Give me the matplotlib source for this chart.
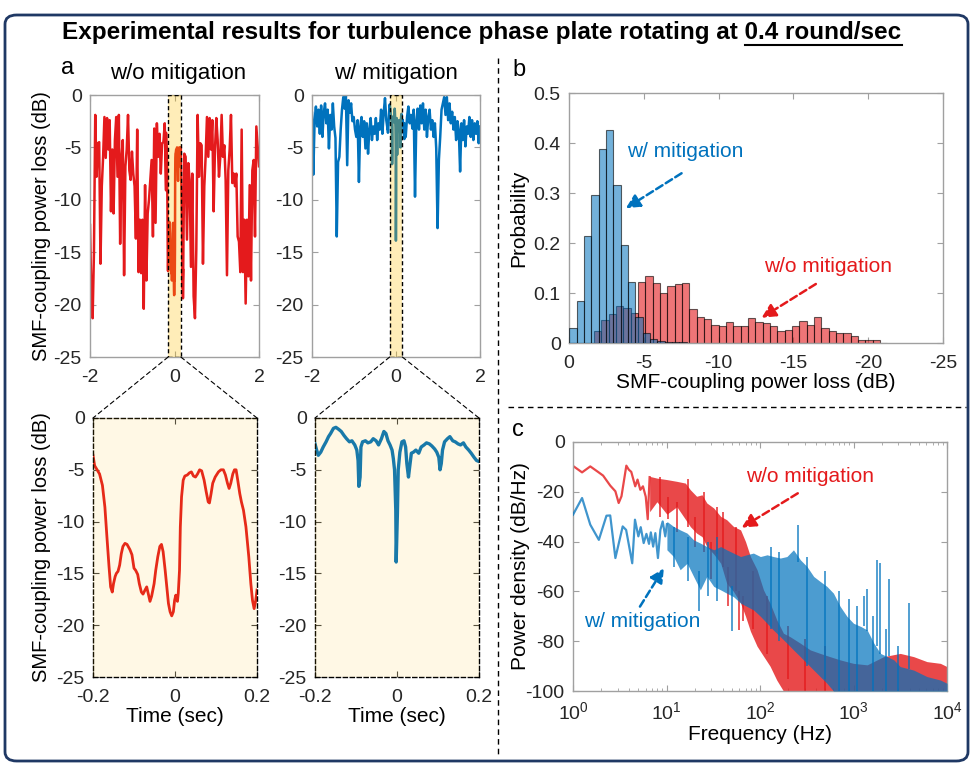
import numpy as np
import matplotlib.pyplot as plt
from matplotlib.colors import to_rgba
from matplotlib.lines import Line2D
from matplotlib.patches import Rectangle, FancyBboxPatch, ConnectionPatch

plt.rcParams['font.family'] = ['Liberation Sans', 'DejaVu Sans']
plt.rcParams['axes.unicode_minus'] = False

RED = '#E41A1C'
BLUE = '#0072BD'
HILITE = '#FFC000'

# ---- panel a: coupling loss vs time (dB) ----
# top traces, outside the zoom window (evenly sampled)
tl_left = [-12.4, -18.9, -21.3, -15.1, -1.9, -7.8, -4.6, -4.5, -16.1, -8.7,
           -5.9, -2.1, -6.0, -2.2, -5.2, -2.4, -11.1, -5.2, -11.3, -4.3,
           -2.1, -7.8, -1.9, -14.2, -6.0, -4.3, -17.2, -6.8, -5.2, -1.9,
           -7.2, -8.1, -5.4, -7.5, -8.7, -13.7, -3.3, -16.9, -11.9, -17.0,
           -11.9, -20.4, -8.6, -17.7, -11.3, -10.0, -8.1, -6.2, -13.5, -3.2,
           -12.2, -2.7, -5.9, -3.7, -7.5, -4.6, -4.5, -2.7, -9.1]
tl_right = [-19.4, -5.6, -5.9, -13.8, -6.5, -8.1, -16.4, -7.5, -19.2, -21.3,
            -14.8, -1.9, -7.8, -4.6, -4.8, -16.1, -8.7, -5.9, -2.1, -5.9,
            -2.2, -5.2, -2.4, -11.1, -5.2, -2.2, -4.3, -7.8, -5.9, -1.9,
            -5.9, -4.8, -8.1, -17.2, -7.2, -5.2, -1.9, -8.4, -7.5, -8.7,
            -7.5, -13.5, -14.0, -16.9, -3.3, -16.9, -11.9, -19.9, -11.9, -17.3,
            -8.6, -17.7, -7.2, -6.2, -13.5, -3.0, -4.9, -6.8]
tr_left = [-1.7, -7.6, -2.4, -1.1, -3.0, -1.4, -3.7, -1.0, -4.0, -1.7,
           -0.8, -2.7, -1.4, -5.1, -1.9, -3.3, -0.8, -3.0, -4.1, -13.5,
           -6.4, -5.9, -3.3, -1.4, -0.2, -1.3, -0.1, -6.7, -0.5, -1.7,
           -0.8, -2.5, -2.1, -3.3, -4.0, -2.4, -8.3, -3.0, -2.1, -4.0,
           -2.5, -5.1, -2.7, -5.6, -3.3, -2.2, -4.3, -3.0, -3.7, -2.2,
           -4.3, -2.7, -3.3, -1.4, -3.7, -1.7, -0.3, -2.4, -3.3]
tr_right = [-2.7, -4.0, -2.1, -1.1, -2.7, -1.9, -3.2, -1.4, -9.7, -2.4,
            -1.3, -3.3, -1.0, -2.7, -0.8, -3.3, -1.4, -4.0, -2.1, -1.4,
            -3.3, -2.4, -4.0, -2.7, -5.1, -12.7, -6.2, -4.0, -1.4, -0.8,
            -0.2, -1.9, -0.2, -2.4, -0.8, -2.7, -1.6, -3.3, -2.1, -4.3,
            -2.5, -3.3, -7.3, -2.7, -4.3, -2.4, -4.9, -3.0, -3.7, -2.1,
            -4.0, -2.4, -4.3, -2.7, -3.7, -2.5, -4.6, -3.0]

# zoomed window -0.2 .. 0.2 s
wo_t = [-0.200, -0.196, -0.190, -0.184, -0.177, -0.171, -0.166, -0.161, -0.157, -0.153,
        -0.150, -0.146, -0.143, -0.139, -0.135, -0.131, -0.127, -0.122, -0.117, -0.110,
        -0.105, -0.100, -0.096, -0.091, -0.087, -0.082, -0.078, -0.073, -0.069, -0.065,
        -0.061, -0.057, -0.051, -0.047, -0.042, -0.037, -0.033, -0.029, -0.024, -0.020,
        -0.016, -0.012, -0.008, -0.004, -0.001, 0.002, 0.006, 0.008, 0.011, 0.013,
        0.016, 0.020, 0.024, 0.030, 0.035, 0.040, 0.045, 0.050, 0.055, 0.060,
        0.065, 0.071, 0.076, 0.081, 0.084, 0.088, 0.092, 0.098, 0.106, 0.112,
        0.118, 0.123, 0.128, 0.132, 0.136, 0.141, 0.145, 0.149, 0.153, 0.158,
        0.162, 0.167, 0.173, 0.180, 0.185, 0.189, 0.193, 0.197, 0.200]
wo_v = [-3.6, -4.6, -5.0, -5.4, -6.5, -8.6, -11.5, -14.3, -16.3, -16.8,
        -16.0, -15.3, -15.0, -14.8, -14.2, -13.1, -12.4, -12.1, -12.2, -12.7,
        -13.2, -14.5, -14.7, -15.1, -16.0, -16.8, -17.0, -16.6, -16.3, -17.0,
        -17.7, -17.2, -16.0, -14.7, -13.4, -12.4, -12.2, -12.9, -14.7, -16.3,
        -17.9, -18.7, -19.1, -18.7, -17.6, -17.1, -17.7, -16.9, -14.7, -10.5,
        -7.6, -6.0, -5.6, -5.5, -5.3, -5.2, -5.6, -5.7, -5.4, -5.0,
        -5.1, -6.0, -7.1, -8.1, -8.2, -7.3, -6.3, -5.7, -5.2, -5.0,
        -5.0, -5.5, -6.3, -6.8, -6.3, -5.4, -5.0, -5.0, -6.0, -7.3,
        -8.1, -8.9, -10.5, -13.4, -16.0, -17.6, -18.4, -17.6, -16.6]
w_t = [-0.200, -0.196, -0.192, -0.186, -0.180, -0.173, -0.167, -0.162, -0.155, -0.149,
       -0.142, -0.136, -0.129, -0.123, -0.116, -0.110, -0.103, -0.098, -0.095, -0.093,
       -0.090, -0.088, -0.084, -0.077, -0.071, -0.064, -0.058, -0.051, -0.045, -0.038,
       -0.032, -0.027, -0.022, -0.017, -0.012, -0.009, -0.006, -0.003, -0.002, 0.001,
       0.003, 0.007, 0.012, 0.017, 0.021, 0.024, 0.028, 0.031, 0.035, 0.040,
       0.046, 0.053, 0.059, 0.066, 0.072, 0.079, 0.085, 0.092, 0.097, 0.102,
       0.105, 0.108, 0.111, 0.116, 0.123, 0.129, 0.136, 0.142, 0.149, 0.155,
       0.162, 0.168, 0.175, 0.181, 0.188, 0.194, 0.200]
w_v = [-2.5, -3.1, -3.6, -3.3, -2.8, -2.3, -1.8, -1.5, -1.0, -0.9,
       -1.1, -1.3, -1.7, -2.0, -2.3, -2.2, -2.6, -3.1, -4.1, -6.6,
       -5.7, -2.8, -2.3, -2.2, -2.4, -2.3, -2.0, -2.2, -2.6, -2.0,
       -1.3, -1.5, -2.2, -2.6, -3.1, -3.9, -5.0, -8.9, -13.9, -9.2,
       -5.0, -3.3, -2.3, -2.2, -2.8, -4.4, -5.7, -4.7, -3.4, -3.3,
       -3.1, -3.4, -2.8, -2.6, -2.4, -2.5, -2.7, -3.0, -3.3, -3.8,
       -5.0, -4.4, -3.1, -2.3, -2.0, -1.8, -2.2, -2.3, -2.5, -2.6,
       -2.4, -2.8, -3.1, -3.4, -3.8, -4.1, -4.2]

# ---- panel b: histograms (bin width 0.49 dB) ----
hist_w = [0.031, 0.084, 0.214, 0.297, 0.388, 0.427, 0.317, 0.196, 0.123, 0.052,
          0.021, 0.009, 0.005, 0.003, 0.002, 0.002]
hist_wo = [0.025, 0.047, 0.059, 0.075, 0.071, 0.061, 0.122, 0.135, 0.120, 0.101,
           0.115, 0.118, 0.120, 0.069, 0.053, 0.049, 0.037, 0.035, 0.043, 0.034,
           0.034, 0.051, 0.042, 0.041, 0.035, 0.024, 0.026, 0.034, 0.045, 0.037,
           0.053, 0.031, 0.024, 0.021, 0.021, 0.014, 0.007, 0.006, 0.007, 0.001]
BIN = 0.49
START_W = 0.03
START_WO = 1.67

# ---- panel c: power spectral density ----
wo_f_low = [1.0, 1.25, 1.53, 1.85, 2.1, 2.5, 2.84, 3.08, 3.3, 3.72, 3.95, 4.2, 4.63, 4.9,
            5.25, 5.6, 6.0, 6.3, 6.6]
wo_p_low = [-9.6, -12.2, -9.8, -12.0, -13.5, -17.5, -19.8, -24.5, -21.8, -9.5, -11.1, -12.0,
            -17.8, -15.1, -19.2, -17.8, -22.0, -31.0, -14.1]
wo_f_band = [6.6, 7.9, 10.1, 12.9, 15.9, 18, 21, 24, 27, 32, 38, 44, 52, 62, 70, 79,
             93, 109, 128, 151, 178, 210, 270, 345, 440, 560, 720, 1000, 1400, 2100,
             3160, 4400, 6100, 8500, 10000]
wo_p_hi = [-13.8, -14.5, -15.1, -15.8, -16.5, -19.2, -21.8, -21.2, -24.5, -26.5,
           -29.9, -31.2, -33.9, -35.3, -40.0, -46.0, -51.3, -59.4, -64.7, -71.4,
           -76.8, -78.2, -80.8, -83.5, -84.9, -86.2, -87.5, -88.9, -89.5, -86.2,
           -84.9, -86.2, -88.2, -88.9, -90.2]
wo_p_lo = [-28.0, -24.0, -29.0, -26.0, -31.0, -34.0, -36.6, -38.0, -42.0, -45.0,
           -48.7, -56.7, -60.0, -64.7, -70.0, -76.0, -82.0, -86.0, -90.0, -95.6,
           -100, -100, -100, -100, -100, -100, -100, -100, -100, -100,
           -100, -100, -100, -100, -100]
wo_spk_f = [8.5, 10.5, 13.0, 17.0, 20.0, 25.0, 30.0, 35.0, 40.0, 45.0, 56.0, 60.0, 66.0,
            85.0, 120, 200, 300, 500]
wo_spk_lo = [-30.0, -31.0, -36.0, -34.0, -42.0, -44.0, -55.0, -45.0, -50.0, -66.0,
             -60.0, -75.5, -72.0, -75.0, -85.0, -95.0, -100, -100]
wo_spk_hi = [-14.0, -22.0, -24.0, -15.0, -30.0, -20.0, -40.0, -26.0, -28.0, -50.0,
             -34.0, -60.0, -62.0, -52.0, -62.0, -74.0, -79.0, -82.0]

w_f_low = [1.0, 1.25, 1.53, 1.89, 2.28, 2.5, 2.84, 3.4, 3.7, 4.3, 4.6, 5.0, 5.3, 5.7,
           6.1, 6.5, 6.8, 7.2, 7.6, 8.1, 8.6, 9.1, 9.7, 10.1]
w_p_low = [-29.2, -22.5, -33.2, -39.3, -29.6, -29.5, -46.6, -33.9, -35.3, -48.7,
           -31.2, -37.9, -34.2, -40.6, -36.9, -40.9, -36.3, -42.0, -36.6, -46.6,
           -35.3, -31.9, -37.9, -33.0]
w_f_band = [10.1, 11.9, 14, 16.6, 19.5, 23, 27, 32, 38, 44, 52, 62, 72, 85, 101,
            119, 139, 165, 194, 228, 270, 318, 375, 440, 520, 610, 720, 850, 1000,
            1200, 1400, 1650, 1940, 2300, 2700, 3160, 4400, 6100, 8500, 10000]
w_p_hi = [-31.9, -33.9, -35.3, -36.6, -39.3, -40.6, -42.0, -43.3, -42.0, -43.3,
          -44.6, -46.0, -45.3, -44.6, -46.0, -45.3, -46.0, -46.6, -46.0, -43.3,
          -47.3, -50.0, -54.0, -56.0, -58.0, -60.7, -66.0, -70.0, -72.8, -74.1,
          -75.5, -80.8, -84.9, -86.2, -87.5, -90.2, -91.6, -94.2, -95.6, -96.9]
w_p_lo = [-43.3, -46.0, -51.3, -48.7, -54.0, -59.4, -54.0, -58.0, -59.4, -60.7,
          -62.1, -64.7, -66.0, -67.4, -70.0, -72.8, -75.5, -78.2, -80.8, -83.5,
          -86.2, -88.9, -91.6, -94.2, -96.9, -100, -100, -100, -100, -100,
          -100, -100, -100, -100, -100, -100, -100, -100, -100, -100]
w_spk_f = [12, 17, 22.5, 28, 35, 50.0, 130, 160, 253, 320, 500, 700, 900, 1100, 1300,
           1390, 1600, 1780, 1940, 2200, 2400, 3000, 3950]
w_spk_lo = [-50.0, -56.0, -68.0, -62.0, -64.0, -76.0, -75.0, -80.0, -48.0, -90.0, -95.0,
            -100, -100, -100, -74.0, -76.0, -100, -82.0, -85.0, -100, -86.0, -100, -91.0]
w_spk_hi = [-34.0, -38.0, -52.0, -40.0, -38.0, -58.0, -42.0, -44.0, -33.2, -46.0, -52.0,
            -60.0, -63.0, -66.0, -62.0, -59.0, -70.0, -47.3, -48.7, -75.0, -55.0, -82.0,
            -64.7]

TITLE = 'Experimental results for turbulence phase plate rotating at 0.4 round/sec'
TITLE_UL = '0.4 round/sec'

W, H = 972, 764
fig = plt.figure(figsize=(W / 100, H / 100), dpi=100)


def fx(x):
    return x / W


def fy(y):
    return 1 - y / H


def box(x0, y0, x1, y1):
    return [fx(x0), fy(y1), (x1 - x0) / W, (y1 - y0) / H]


def style(ax, spine='#A0A0A0'):
    for s in ax.spines.values():
        s.set_color(spine)
        s.set_linewidth(1)
    ax.tick_params(which='both', direction='in', top=True, right=True,
                   color=spine, labelcolor='#262626', labelsize=14, pad=6)
    ax.tick_params(axis='x', pad=9)
    ax.tick_params(which='major', length=4)
    ax.tick_params(which='minor', length=2)


ax_tl = fig.add_axes(box(90, 95, 259, 357))
ax_tr = fig.add_axes(box(312, 95, 480, 357))
ax_bl = fig.add_axes(box(93, 418, 257, 677))
ax_br = fig.add_axes(box(315, 418, 479, 677))
ax_b = fig.add_axes(box(569, 93, 943, 343))
ax_c = fig.add_axes(box(573, 442, 947, 691))

# --- panel a, top row ---
for ax, left, mid_t, mid_v, right, col in [
        (ax_tl, tl_left, wo_t, wo_v, tl_right, RED),
        (ax_tr, tr_left, w_t, w_v, tr_right, BLUE)]:
    t = np.concatenate([np.linspace(-2, -0.2, len(left)), mid_t,
                        np.linspace(0.2, 2, len(right))])
    v = np.concatenate([left, mid_v, right])
    ax.plot(t, v, color=col, lw=1.8, zorder=2)
    ax.add_patch(Rectangle((-0.15, -25), 0.3, 25, fc=HILITE, alpha=0.28, lw=0, zorder=3))
    ax.add_patch(Rectangle((-0.15, -25), 0.3, 25, fill=False, ec='k', ls=(0, (3, 2)),
                           lw=1, zorder=4))
    ax.set_xlim(-2, 2)
    ax.set_ylim(-25, 0)
    ax.set_xticks([-2, 0, 2])
    ax.set_yticks([0, -5, -10, -15, -20, -25])
    style(ax)

# --- panel a, zoomed row ---
for ax, t, v, col, lw in [(ax_bl, wo_t, wo_v, RED, 2.0), (ax_br, w_t, w_v, BLUE, 2.4)]:
    ax.plot(t, v, color=col, lw=lw, zorder=2)
    ax.add_patch(Rectangle((0, 0), 1, 1, transform=ax.transAxes, fc=HILITE,
                           alpha=0.1, lw=0, zorder=3))
    ax.set_xlim(-0.2, 0.2)
    ax.set_ylim(-25, 0)
    ax.set_xticks([-0.2, 0, 0.2])
    ax.set_xticklabels(['-0.2', '0', '0.2'])
    ax.set_yticks([0, -5, -10, -15, -20, -25])
    style(ax)
    for s in ax.spines.values():
        s.set_color('k')
        s.set_linestyle((0, (3, 2)))
    ax.tick_params(which='both', color='#444444')
    ax.set_xlabel('Time (sec)', fontsize=15)
    ax.xaxis.set_label_coords(0.5, -0.115)

for ax in (ax_tl, ax_bl):
    ax.set_ylabel('SMF-coupling power loss (dB)', fontsize=14.5)
ax_tl.yaxis.set_label_coords(-0.23, 0.5)
ax_bl.yaxis.set_label_coords(-0.255, 0.5)

# connectors from highlight window to zoomed axes
for top, bot in [(ax_tl, ax_bl), (ax_tr, ax_br)]:
    for xa, xb in [(-0.15, 0), (0.15, 1)]:
        con = ConnectionPatch(xyA=(xa, -25), coordsA=top.transData,
                              xyB=(xb, 1), coordsB=bot.transAxes,
                              color='k', lw=0.8, ls=(0, (4, 3)))
        fig.add_artist(con)

# --- panel b ---
c_wo = to_rgba(RED, 0.6)
c_w = to_rgba(BLUE, 0.55)
edge = (0, 0, 0, 0.6)
ax_b.bar(-(START_WO + BIN * np.arange(len(hist_wo))), hist_wo, width=-BIN, align='edge',
         color=c_wo, edgecolor=edge, lw=0.8, zorder=2)
ax_b.bar(-(START_W + BIN * np.arange(len(hist_w))), hist_w, width=-BIN, align='edge',
         color=c_w, edgecolor=edge, lw=0.8, zorder=3)
ax_b.set_xlim(0, -25)
ax_b.set_ylim(0, 0.5)
ax_b.set_xticks([0, -5, -10, -15, -20, -25])
ax_b.set_yticks([0, 0.1, 0.2, 0.3, 0.4, 0.5])
ax_b.set_yticklabels(['0', '0.1', '0.2', '0.3', '0.4', '0.5'])
style(ax_b)
ax_b.set_xlabel('SMF-coupling power loss (dB)', fontsize=15)
ax_b.xaxis.set_label_coords(0.5, -0.12)
ax_b.set_ylabel('Probability', fontsize=15)
ax_b.yaxis.set_label_coords(-0.11, 0.5)

# --- panel c ---
ax_c.plot(wo_f_low, wo_p_low, color=RED, alpha=0.8, lw=1.6, zorder=2)
ax_c.fill_between(wo_f_band, wo_p_lo, wo_p_hi, color=RED, alpha=0.8, lw=0, zorder=2)
ax_c.vlines(wo_spk_f, wo_spk_lo, wo_spk_hi, color=RED, alpha=0.85, lw=1.2, zorder=2)
ax_c.plot(w_f_low, w_p_low, color=BLUE, alpha=0.75, lw=1.6, zorder=3)
ax_c.fill_between(w_f_band, w_p_lo, w_p_hi, color=BLUE, alpha=0.7, lw=0, zorder=3)
ax_c.vlines(w_spk_f, w_spk_lo, w_spk_hi, color=BLUE, alpha=0.8, lw=1.2, zorder=3)
ax_c.set_xscale('log')
ax_c.set_xlim(1, 1e4)
ax_c.set_ylim(-100, 0)
ax_c.set_yticks([0, -20, -40, -60, -80, -100])
style(ax_c)
ax_c.tick_params(axis='x', pad=7)
ax_c.set_xlabel('Frequency (Hz)', fontsize=15)
ax_c.xaxis.set_label_coords(0.5, -0.135)
ax_c.set_ylabel('Power density (dB/Hz)', fontsize=15)
ax_c.yaxis.set_label_coords(-0.115, 0.5)

# annotations


def tag(ax, text, xy, col):
    ax.text(xy[0], xy[1], text, transform=ax.transAxes, color=col, fontsize=15,
            ha='left', va='center')


def arrow(ax, start, end, col):
    ax.annotate('', xy=end, xytext=start, xycoords='axes fraction',
                arrowprops=dict(arrowstyle='-|>,head_length=0.6,head_width=0.3',
                                linestyle=(0, (3, 1.5)), color=col, lw=1.8,
                                mutation_scale=14, shrinkA=0, shrinkB=0))


tag(ax_b, 'w/ mitigation', (0.155, 0.765), BLUE)
arrow(ax_b, (0.301, 0.679), (0.152, 0.539), BLUE)
tag(ax_b, 'w/o mitigation', (0.521, 0.305), RED)
arrow(ax_b, (0.660, 0.236), (0.515, 0.101), RED)
tag(ax_c, 'w/o mitigation', (0.463, 0.863), RED)
arrow(ax_c, (0.601, 0.794), (0.451, 0.656), RED)
tag(ax_c, 'w/ mitigation', (0.029, 0.278), BLUE)
arrow(ax_c, (0.179, 0.339), (0.243, 0.493), BLUE)

# panel letters and headings
fig.text(fx(61), fy(68), 'a', fontsize=17, va='center')
fig.text(fx(512), fy(70), 'b', fontsize=17, va='center')
fig.text(fx(512), fy(430), 'c', fontsize=17, va='center')
fig.text(fx(178), fy(73), 'w/o mitigation', fontsize=16, ha='center', va='center')
fig.text(fx(396), fy(73), 'w/ mitigation', fontsize=16, ha='center', va='center')

# separators
fig.add_artist(Line2D([fx(498), fx(498)], [fy(58), fy(758)], transform=fig.transFigure,
                      color='k', lw=1, ls=(0, (4, 3))))
fig.add_artist(Line2D([fx(508), fx(966)], [fy(407), fy(407)], transform=fig.transFigure,
                      color='k', lw=1, ls=(0, (4, 3))))

# outer frame
fig.add_artist(FancyBboxPatch((fx(5), fy(761)), (963 / W), (746 / H),
                              boxstyle='round,pad=0,rounding_size=0.012',
                              transform=fig.transFigure, fill=False,
                              ec='#1F3864', lw=2))

# title with underlined speed
title = fig.text(fx(482), fy(33), TITLE, fontsize=17.5, fontweight='bold',
                 ha='center', va='center')
fig.canvas.draw()
rend = fig.canvas.get_renderer()
bb = title.get_window_extent(rend)
probe = fig.text(0, 0, TITLE_UL, fontsize=17.5, fontweight='bold')
w_ul = probe.get_window_extent(rend).width
probe.remove()
x1 = bb.x1 / fig.bbox.width
x0 = (bb.x1 - w_ul) / fig.bbox.width
fig.add_artist(Line2D([x0, x1], [fy(45), fy(45)], transform=fig.transFigure,
                      color='k', lw=1.5))

fig.savefig('out.png', dpi=100)
